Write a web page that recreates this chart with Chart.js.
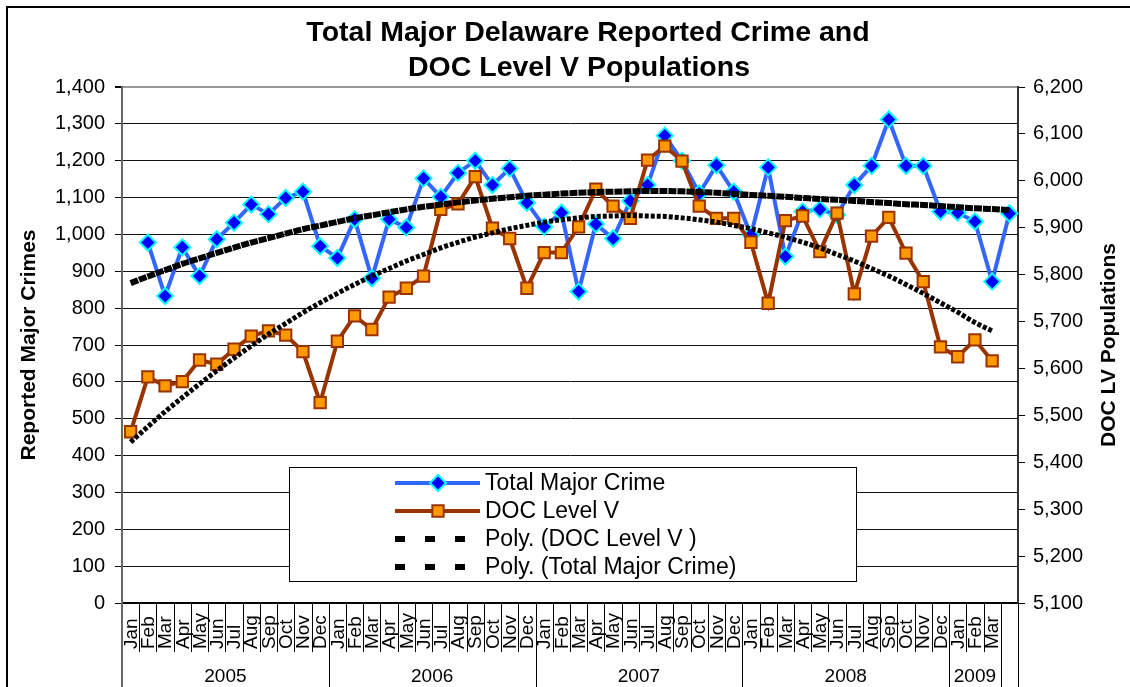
<!DOCTYPE html>
<html>
<head>
<meta charset="utf-8">
<title>Total Major Delaware Reported Crime and DOC Level V Populations</title>
<script src="https://cdn.jsdelivr.net/npm/chart.js@4.4.1/dist/chart.umd.min.js"></script>
<style>
  body { margin: 0; background: #fff; }
  canvas { display: block; }
</style>
</head>
<body>
<canvas id="chart" width="1130" height="687"></canvas>
<script>
const titleLines = ['Total Major Delaware Reported Crime and', 'DOC Level V Populations'];
const months = [
    'Jan', 'Feb', 'Mar', 'Apr', 'May', 'Jun', 'Jul', 'Aug', 'Sep', 'Oct', 'Nov', 'Dec',
    'Jan', 'Feb', 'Mar', 'Apr', 'May', 'Jun', 'Jul', 'Aug', 'Sep', 'Oct', 'Nov', 'Dec',
    'Jan', 'Feb', 'Mar', 'Apr', 'May', 'Jun', 'Jul', 'Aug', 'Sep', 'Oct', 'Nov', 'Dec',
    'Jan', 'Feb', 'Mar', 'Apr', 'May', 'Jun', 'Jul', 'Aug', 'Sep', 'Oct', 'Nov', 'Dec',
    'Jan', 'Feb', 'Mar', ''
];
const years = [
    '2005', '2005', '2005', '2005', '2005', '2005', '2005', '2005', '2005', '2005', '2005', '2005',
    '2006', '2006', '2006', '2006', '2006', '2006', '2006', '2006', '2006', '2006', '2006', '2006',
    '2007', '2007', '2007', '2007', '2007', '2007', '2007', '2007', '2007', '2007', '2007', '2007',
    '2008', '2008', '2008', '2008', '2008', '2008', '2008', '2008', '2008', '2008', '2008', '2008',
    '2009', '2009', '2009', ''
];
// Total Major Crime (left axis) - no value for Jan 2005
const crime = [
    null, 978, 833, 965, 887, 987, 1032, 1081, 1055, 1099, 1116, 968,
    936, 1041, 881, 1041, 1019, 1152, 1102, 1167, 1200, 1134, 1179, 1086,
    1021, 1059, 845, 1028, 989, 1091, 1134, 1268, 1200, 1111, 1188, 1116,
    998, 1182, 940, 1062, 1068, 1053, 1134, 1186, 1312, 1186, 1186, 1062,
    1059, 1035, 872, 1057
];
// DOC Level V population (right axis)
const doc = [
    5465, 5582, 5563, 5572, 5618, 5609, 5641, 5669, 5680, 5671, 5636, 5527,
    5658, 5712, 5683, 5752, 5771, 5797, 5939, 5951, 6009, 5899, 5877, 5771,
    5847, 5847, 5902, 5982, 5946, 5920, 6044, 6074, 6042, 5946, 5920, 5920,
    5869, 5739, 5915, 5925, 5849, 5931, 5759, 5882, 5922, 5846, 5785, 5646,
    5625, 5661, 5616
];
// Poly. trendlines, values
const crimePoly = [
    868, 886, 903, 920, 935, 950, 964, 978, 990, 1002, 1014, 1024,
    1034, 1044, 1052, 1060, 1068, 1075, 1081, 1087, 1092, 1097, 1101, 1105,
    1108, 1111, 1113, 1115, 1116, 1117, 1118, 1118, 1117, 1115, 1113, 1110,
    1107, 1105, 1102, 1099, 1096, 1094, 1091, 1088, 1085, 1082, 1080, 1077,
    1074, 1071, 1069, 1066
];
const docPoly = [
    5443, 5476, 5508, 5538, 5567, 5595, 5622, 5648, 5673, 5696, 5719, 5740,
    5760, 5779, 5797, 5813, 5829, 5843, 5857, 5869, 5880, 5889, 5898, 5905,
    5912, 5917, 5921, 5924, 5925, 5926, 5925, 5924, 5921, 5917, 5912, 5905,
    5898, 5889, 5880, 5869, 5857, 5843, 5829, 5813, 5797, 5779, 5760, 5740,
    5720, 5698, 5680
];
const crimeTicks = [0, 1400, 100];
const docTicks = [5100, 6200, 100];

const FONT = "Arial, 'Liberation Sans', sans-serif";

const excelBits = {
    id: 'excelBits',
    afterDraw(chart) {
        const ctx = chart.ctx;
        const a = chart.chartArea;
        const xs = chart.scales.x;
        const w = (a.right - a.left) / months.length;
        ctx.save();

        // chart frame
        ctx.strokeStyle = '#000';
        ctx.lineWidth = 2;
        ctx.beginPath();
        ctx.moveTo(7, 687);
        ctx.lineTo(7, 7);
        ctx.lineTo(1130, 7);
        ctx.stroke();

        // title
        ctx.fillStyle = '#000';
        ctx.font = 'bold 28.5px ' + FONT;
        ctx.textAlign = 'center';
        ctx.textBaseline = 'middle';
        ctx.fillText(titleLines[0], 588, 33);
        ctx.fillText(titleLines[1], 579, 68);

        // category / year separators under the axis
        for (let i = 0; i <= months.length; i++) {
            const px = Math.round(a.left + i * w);
            const yearEdge = i === 0 || i === months.length || years[i] !== years[i - 1];
            ctx.strokeStyle = i === 0 ? '#666' : '#000';
            ctx.lineWidth = i === 0 ? 2 : 1;
            const off = i === 0 ? 0 : 0.5;
            ctx.beginPath();
            ctx.moveTo(px + off, a.bottom);
            ctx.lineTo(px + off, yearEdge ? 687 : 652);
            ctx.stroke();
        }

        // month labels
        ctx.font = '19px ' + FONT;
        ctx.textAlign = 'left';
        months.forEach((m, i) => {
            const cx = xs.getPixelForValue(i);
            ctx.save();
            ctx.translate(cx + 1, 649);
            ctx.rotate(-Math.PI / 2);
            ctx.fillText(m, 0, 0);
            ctx.restore();
        });

        // year labels
        ctx.textAlign = 'center';
        let start = 0;
        for (let i = 1; i <= years.length; i++) {
            if (i === years.length || years[i] !== years[start]) {
                if (years[start]) {
                    ctx.fillText(years[start], a.left + (start + i) / 2 * w, 677);
                }
                start = i;
            }
        }

        // axis titles
        ctx.font = 'bold 21px ' + FONT;
        ctx.save();
        ctx.translate(29, (a.top + a.bottom) / 2);
        ctx.rotate(-Math.PI / 2);
        ctx.fillText('Reported Major Crimes', 0, 0);
        ctx.restore();
        ctx.save();
        ctx.translate(1109, (a.top + a.bottom) / 2);
        ctx.rotate(-Math.PI / 2);
        ctx.fillText('DOC LV Populations', 0, 0);
        ctx.restore();

        // legend
        const ds = chart.data.datasets;
        ctx.fillStyle = '#fff';
        ctx.fillRect(289, 467, 567, 114);
        ctx.strokeStyle = '#000';
        ctx.lineWidth = 1;
        ctx.strokeRect(289.5, 467.5, 567, 114);
        const rows = [483, 511, 539, 567];
        const order = [2, 3, 0, 1];
        ctx.font = '23px ' + FONT;
        ctx.textAlign = 'left';
        order.forEach((di, r) => {
            const d = ds[di];
            const y = rows[r];
            if (d.pointRadius) {
                ctx.strokeStyle = d.borderColor;
                ctx.lineWidth = d.borderWidth;
                ctx.setLineDash([]);
                ctx.beginPath();
                ctx.moveTo(395, y);
                ctx.lineTo(480, y);
                ctx.stroke();
                ctx.fillStyle = d.pointBackgroundColor;
                ctx.strokeStyle = d.pointBorderColor;
                ctx.lineWidth = d.pointBorderWidth;
                Chart.helpers.drawPoint(ctx, {
                    pointStyle: d.pointStyle,
                    radius: d.pointRadius,
                    borderWidth: d.pointBorderWidth
                }, 438, y);
            } else {
                ctx.strokeStyle = '#000';
                ctx.lineWidth = 6;
                ctx.setLineDash([10, 20]);
                ctx.beginPath();
                ctx.moveTo(395, y);
                ctx.lineTo(466, y);
                ctx.stroke();
                ctx.setLineDash([]);
            }
            ctx.fillStyle = '#000';
            ctx.fillText(d.label, 485, y + 1);
        });

        ctx.restore();
    }
};

Chart.defaults.font.family = FONT;
Chart.defaults.color = '#000';

new Chart(document.getElementById('chart'), {
    type: 'line',
    data: {
        labels: months,
        datasets: [
            {
                label: 'Poly. (DOC Level V )',
                data: docPoly,
                yAxisID: 'y1',
                borderColor: '#000',
                borderWidth: 5,
                borderDash: [4, 2],
                pointRadius: 0,
                tension: 0.4,
                cubicInterpolationMode: 'monotone',
                order: 0
            },
            {
                label: 'Poly. (Total Major Crime)',
                data: crimePoly,
                yAxisID: 'y',
                borderColor: '#000',
                borderWidth: 6,
                borderDash: [8, 1],
                pointRadius: 0,
                tension: 0.4,
                cubicInterpolationMode: 'monotone',
                order: 0
            },
            {
                label: 'Total Major Crime',
                data: crime,
                yAxisID: 'y',
                borderColor: '#3366FF',
                borderWidth: 4,
                pointStyle: 'rectRot',
                pointRadius: 8,
                pointBackgroundColor: '#0000FF',
                pointBorderColor: '#00FFFF',
                pointBorderWidth: 2,
                tension: 0,
                order: 2
            },
            {
                label: 'DOC Level V',
                data: doc,
                yAxisID: 'y1',
                borderColor: '#993300',
                borderWidth: 4,
                pointStyle: 'rect',
                pointRadius: 8,
                pointBackgroundColor: '#FF9900',
                pointBorderColor: '#993300',
                pointBorderWidth: 2,
                tension: 0,
                order: 1
            }
        ]
    },
    options: {
        responsive: false,
        animation: false,
        devicePixelRatio: 1,
        layout: { padding: { top: 87 } },
        plugins: {
            legend: { display: false },
            tooltip: { enabled: false },
            title: { display: false }
        },
        scales: {
            x: {
                offset: true,
                grid: { display: false },
                ticks: { display: false },
                border: { color: '#000', width: 2 },
                afterFit: s => { s.height = 84; }
            },
            y: {
                position: 'left',
                min: crimeTicks[0],
                max: crimeTicks[1],
                ticks: {
                    stepSize: crimeTicks[2],
                    padding: 10,
                    font: { size: 20 },
                    callback: v => v.toLocaleString('en-US')
                },
                grid: {
                    color: c => c.tick && c.tick.value === crimeTicks[1] ? '#999' : '#111',
                    lineWidth: c => c.tick && c.tick.value === crimeTicks[1] ? 2 : 1,
                    tickLength: 7,
                    tickColor: '#000'
                },
                border: { color: '#666', width: 2 },
                afterFit: s => { s.width = 122; }
            },
            y1: {
                position: 'right',
                min: docTicks[0],
                max: docTicks[1],
                ticks: {
                    stepSize: docTicks[2],
                    padding: 8,
                    font: { size: 20 },
                    callback: v => v.toLocaleString('en-US')
                },
                grid: {
                    drawOnChartArea: false,
                    tickLength: 7,
                    tickColor: '#000'
                },
                border: { color: '#333', width: 2 },
                afterFit: s => { s.width = 112; }
            }
        }
    },
    plugins: [excelBits]
});
</script>
</body>
</html>
